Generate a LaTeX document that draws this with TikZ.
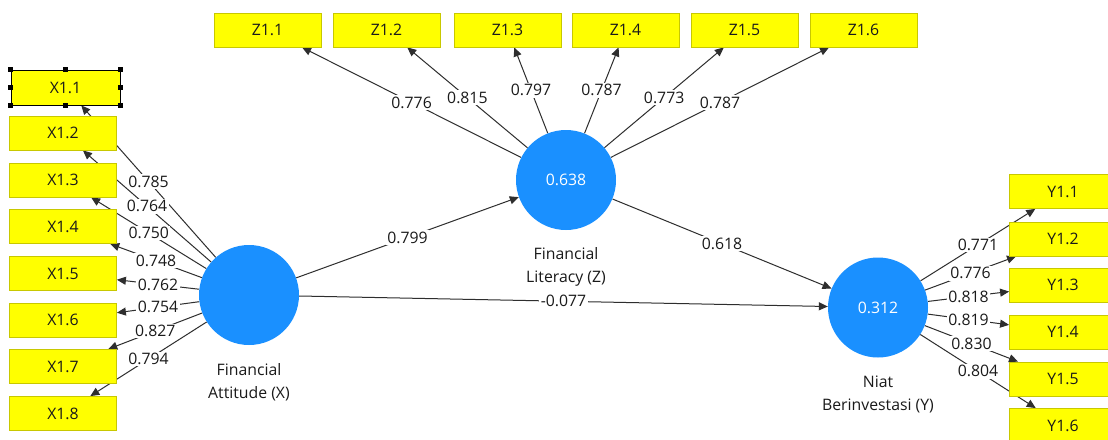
\documentclass[tikz,border=0pt]{standalone}
\usepackage{fontspec}
\setmainfont{Open Sans}
\usetikzlibrary{arrows.meta}
\pgfdeclarelayer{edges}
\pgfsetlayers{edges,main}

\definecolor{indfill}{HTML}{FFFF00}
\definecolor{inddraw}{HTML}{C8C800}
\definecolor{latfill}{HTML}{1A90FF}
\definecolor{edgecol}{HTML}{2E2E2E}
\definecolor{txt}{HTML}{1A1A1A}

\begin{document}
\begin{tikzpicture}[x=1pt,y=-1pt,
  every node/.style={font=\fontsize{15.8}{22.5}\selectfont, text=txt},
  indicator/.style={draw=inddraw, fill=indfill, line width=0.8pt,
    minimum width=107pt, minimum height=34pt, inner sep=0pt},
  latent/.style={circle, fill=latfill, minimum size=100pt, inner sep=0pt, text=white},
  conn/.style={draw=edgecol, line width=1pt, -{Triangle[length=9pt,width=8pt]}},
  coef/.style={fill=white, inner sep=1.5pt},
  caption/.style={align=center},
  handle/.style={fill=black, minimum size=5pt, inner sep=0pt}]

\useasboundingbox (0,0) rectangle (1108,439);
\begin{pgfonlayer}{edges}
  \fill[white] (0,0) rectangle (1108,439);
\end{pgfonlayer}
\clip (0,0) rectangle (1108,439);

% latent variables
\node[latent] (FA) at (249,295) {};
\node[latent] (FL) at (566,180) {0.638};
\node[latent] (NB) at (878,307.5) {0.312};

\node[caption] (FAcap) at (249,382) {Financial\\Attitude (X)};
\node[caption] (FLcap) at (566,267) {Financial\\Literacy (Z)};
\node[caption] (NBcap) at (878,394.5) {Niat\\Berinvestasi (Y)};

% indicators of Financial Attitude (X1.1 is the selected one)
\node[indicator, draw=black, minimum width=109pt, minimum height=35pt] (x1) at (65.5,87.5) {X1.1};
\foreach \a in {north west,north,north east,east,south east,south,south west,west}
  \node[handle] at (x1.\a) {};
\foreach \i/\y in {2/133,3/180,4/226.5,5/273.5,6/320,7/366.5,8/413.5}
  \node[indicator] (x\i) at (63,\y) {X1.\i};

% indicators of Financial Literacy
\foreach \i/\x in {1/267.5,2/386.5,3/507.5,4/625.5,5/744.5,6/863.5}
  \node[indicator] (z\i) at (\x,30) {Z1.\i};

% indicators of Niat Berinvestasi
\foreach \i/\y in {1/191.5,2/239,3/285,4/332,5/379,6/425.5}
  \node[indicator] (y\i) at (1063,\y) {Y1.\i};

\begin{pgfonlayer}{edges}
  % outer loadings
  \foreach \i/\v in {1/0.785,2/0.764,3/0.750,4/0.748,5/0.762,6/0.754,7/0.827,8/0.794}
    \draw[conn] (FA) -- node[coef] {\v} (x\i);
  \foreach \i/\v in {1/0.776,2/0.815,3/0.797,4/0.787,5/0.773,6/0.787}
    \draw[conn] (FL) -- node[coef] {\v} (z\i);
  \foreach \i/\v in {1/0.771,2/0.776,3/0.818,4/0.819,5/0.830,6/0.804}
    \draw[conn] (NB) -- node[coef] {\v} (y\i);
  % path coefficients
  \draw[conn] (FA) -- node[coef] {0.799} (FL);
  \draw[conn] (FL) -- node[coef] {0.618} (NB);
  \draw[conn] (FA) -- node[coef] {-0.077} (NB);
\end{pgfonlayer}
\end{tikzpicture}
\end{document}
